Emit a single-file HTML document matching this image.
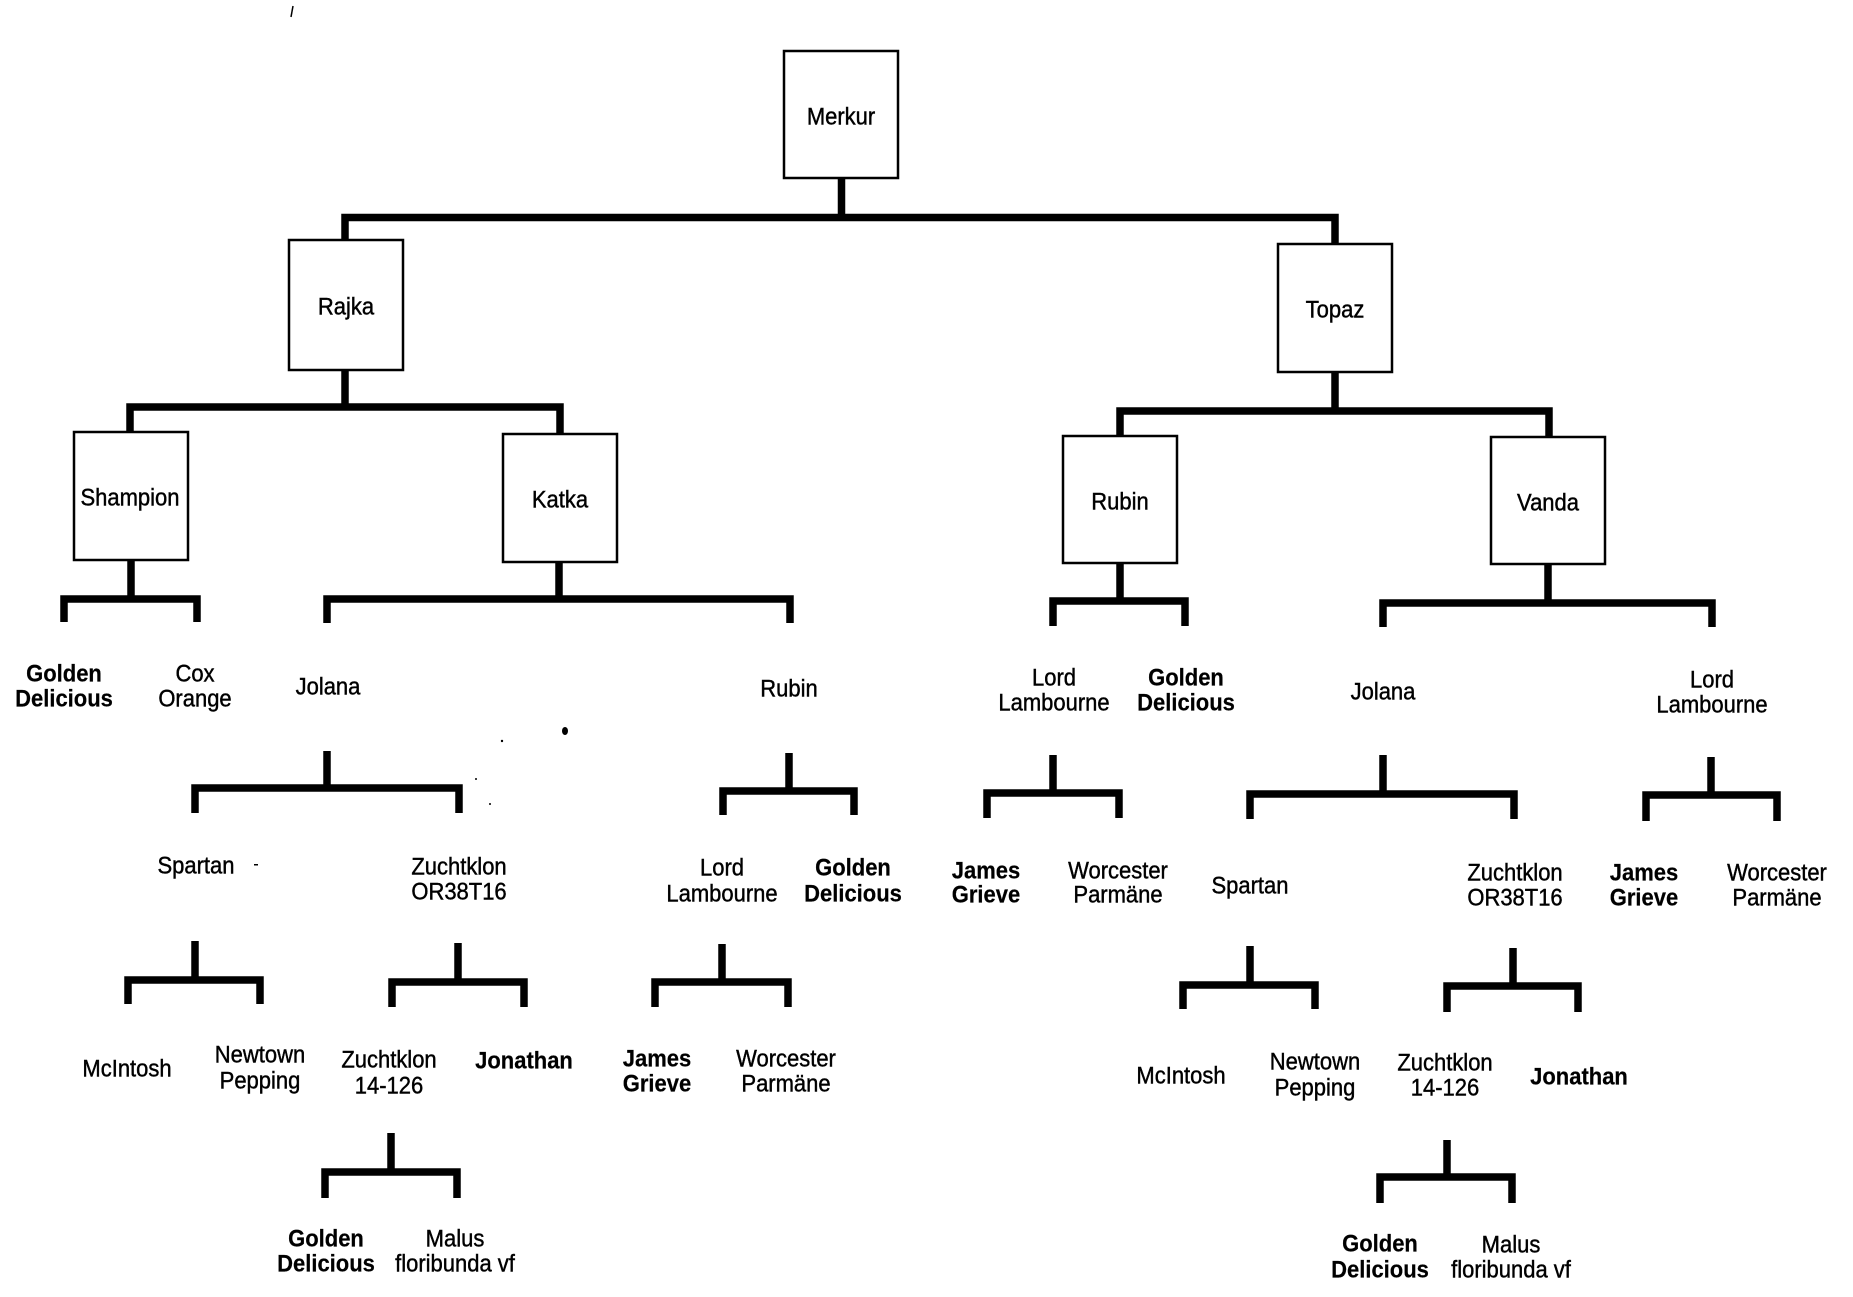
<!DOCTYPE html>
<html>
<head>
<meta charset="utf-8">
<style>
  html, body { margin: 0; padding: 0; background: #fff; }
  svg { display: block; }
  text { font-family: "Liberation Sans", Arial, sans-serif; font-size: 22px; fill: #000; text-anchor: middle; stroke: #000; stroke-width: 0.4; }
  .b { font-weight: bold; stroke-width: 0.2; }
  .ln { stroke: #000; stroke-width: 7.5; fill: none; stroke-linejoin: miter; stroke-linecap: butt; }
  .bx { stroke: #000; stroke-width: 2.5; fill: #fff; }
</style>
</head>
<body>
<svg width="1853" height="1297" viewBox="0 0 1853 1297" xmlns="http://www.w3.org/2000/svg">
  <rect width="1853" height="1297" fill="#fff"/>

  <!-- specks -->
  <path d="M293 6 L291 17" stroke="#000" stroke-width="1.5"/>
  <ellipse cx="565" cy="731" rx="3" ry="4" fill="#000"/>
  <circle cx="502" cy="741" r="1.2" fill="#000"/>
  <circle cx="476" cy="779" r="1" fill="#000"/>
  <circle cx="490" cy="804" r="1" fill="#000"/>
  <rect x="254" y="864" width="4" height="1.5" fill="#000"/>

  <!-- Level 1 -->
  <line class="ln" x1="841.5" y1="178" x2="841.5" y2="218"/>
  <polyline class="ln" points="345,240 345,217.5 1335,217.5 1335,244"/>

  <!-- Rajka connectors -->
  <line class="ln" x1="345" y1="370" x2="345" y2="407"/>
  <polyline class="ln" points="130,432 130,407 560,407 560,434"/>

  <!-- Topaz connectors -->
  <line class="ln" x1="1335" y1="372" x2="1335" y2="411"/>
  <polyline class="ln" points="1120,436 1120,411 1549,411 1549,437"/>

  <!-- Level 3 brackets -->
  <line class="ln" x1="131" y1="560" x2="131" y2="599"/>
  <polyline class="ln" points="64,622 64,599 197,599 197,622"/>
  <line class="ln" x1="559" y1="562" x2="559" y2="599"/>
  <polyline class="ln" points="327,623 327,599 790,599 790,623"/>
  <line class="ln" x1="1120" y1="563" x2="1120" y2="601"/>
  <polyline class="ln" points="1053,626 1053,601 1185,601 1185,626"/>
  <line class="ln" x1="1548" y1="564" x2="1548" y2="603"/>
  <polyline class="ln" points="1383,627 1383,603 1712,603 1712,627"/>

  <!-- Level 4 brackets -->
  <line class="ln" x1="327" y1="751" x2="327" y2="788"/>
  <polyline class="ln" points="195,813 195,788 459,788 459,813"/>
  <line class="ln" x1="789" y1="753" x2="789" y2="791"/>
  <polyline class="ln" points="723,815 723,791 854,791 854,815"/>
  <line class="ln" x1="1053" y1="755" x2="1053" y2="793"/>
  <polyline class="ln" points="987,818 987,793 1119,793 1119,818"/>
  <line class="ln" x1="1383" y1="755" x2="1383" y2="794"/>
  <polyline class="ln" points="1250,819 1250,794 1514,794 1514,819"/>
  <line class="ln" x1="1711" y1="757" x2="1711" y2="795"/>
  <polyline class="ln" points="1646,821 1646,795 1777,795 1777,821"/>

  <!-- Level 5 brackets -->
  <line class="ln" x1="195" y1="941" x2="195" y2="980"/>
  <polyline class="ln" points="128,1004 128,980 260,980 260,1004"/>
  <line class="ln" x1="458" y1="943" x2="458" y2="982"/>
  <polyline class="ln" points="392,1007 392,982 524,982 524,1007"/>
  <line class="ln" x1="722" y1="944" x2="722" y2="982"/>
  <polyline class="ln" points="655,1007 655,982 788,982 788,1007"/>
  <line class="ln" x1="1250" y1="946" x2="1250" y2="985"/>
  <polyline class="ln" points="1183,1009 1183,985 1315,985 1315,1009"/>
  <line class="ln" x1="1513" y1="948" x2="1513" y2="986"/>
  <polyline class="ln" points="1447,1012 1447,986 1578,986 1578,1012"/>

  <!-- Level 6 brackets -->
  <line class="ln" x1="391" y1="1133" x2="391" y2="1172"/>
  <polyline class="ln" points="325,1198 325,1172 457,1172 457,1198"/>
  <line class="ln" x1="1447" y1="1140" x2="1447" y2="1177"/>
  <polyline class="ln" points="1380,1203 1380,1177 1512,1177 1512,1203"/>

  <!-- Boxes -->
  <rect class="bx" x="784" y="51" width="114" height="127"/>
  <rect class="bx" x="289" y="240" width="114" height="130"/>
  <rect class="bx" x="1278" y="244" width="114" height="128"/>
  <rect class="bx" x="74" y="432" width="114" height="128"/>
  <rect class="bx" x="503" y="434" width="114" height="128"/>
  <rect class="bx" x="1063" y="436" width="114" height="127"/>
  <rect class="bx" x="1491" y="437" width="114" height="127"/>

  <!-- Box labels -->
  <text transform="translate(841,124.5) scale(1,1.08)">Merkur</text>
  <text transform="translate(346,314.5) scale(1,1.08)">Rajka</text>
  <text transform="translate(1335,317.5) scale(1,1.08)">Topaz</text>
  <text transform="translate(130,505.5) scale(1,1.08)">Shampion</text>
  <text transform="translate(560,507.5) scale(1,1.08)">Katka</text>
  <text transform="translate(1120,509.5) scale(1,1.08)">Rubin</text>
  <text transform="translate(1548,510.5) scale(1,1.08)">Vanda</text>

  <!-- Level 3 labels -->
  <text class="b" transform="translate(64,681.5) scale(1,1.08)">Golden</text>
  <text class="b" transform="translate(64,706.5) scale(1,1.08)">Delicious</text>
  <text transform="translate(195,681.5) scale(1,1.08)">Cox</text>
  <text transform="translate(195,706.5) scale(1,1.08)">Orange</text>
  <text transform="translate(328,694.5) scale(1,1.08)">Jolana</text>
  <text transform="translate(789,696.5) scale(1,1.08)">Rubin</text>
  <text transform="translate(1054,685.5) scale(1,1.08)">Lord</text>
  <text transform="translate(1054,710.5) scale(1,1.08)">Lambourne</text>
  <text class="b" transform="translate(1186,685.5) scale(1,1.08)">Golden</text>
  <text class="b" transform="translate(1186,710.5) scale(1,1.08)">Delicious</text>
  <text transform="translate(1383,699.5) scale(1,1.08)">Jolana</text>
  <text transform="translate(1712,687.5) scale(1,1.08)">Lord</text>
  <text transform="translate(1712,712.5) scale(1,1.08)">Lambourne</text>

  <!-- Level 4 labels -->
  <text transform="translate(196,873.5) scale(1,1.08)">Spartan</text>
  <text transform="translate(459,874.5) scale(1,1.08)">Zuchtklon</text>
  <text transform="translate(459,899.5) scale(1,1.08)">OR38T16</text>
  <text transform="translate(722,875.5) scale(1,1.08)">Lord</text>
  <text transform="translate(722,901.5) scale(1,1.08)">Lambourne</text>
  <text class="b" transform="translate(853,875.5) scale(1,1.08)">Golden</text>
  <text class="b" transform="translate(853,901.5) scale(1,1.08)">Delicious</text>
  <text class="b" transform="translate(986,878.5) scale(1,1.08)">James</text>
  <text class="b" transform="translate(986,902.5) scale(1,1.08)">Grieve</text>
  <text transform="translate(1118,878.5) scale(1,1.08)">Worcester</text>
  <text transform="translate(1118,902.5) scale(1,1.08)">Parmäne</text>
  <text transform="translate(1250,893.5) scale(1,1.08)">Spartan</text>
  <text transform="translate(1515,880.5) scale(1,1.08)">Zuchtklon</text>
  <text transform="translate(1515,905.5) scale(1,1.08)">OR38T16</text>
  <text class="b" transform="translate(1644,880.5) scale(1,1.08)">James</text>
  <text class="b" transform="translate(1644,905.5) scale(1,1.08)">Grieve</text>
  <text transform="translate(1777,880.5) scale(1,1.08)">Worcester</text>
  <text transform="translate(1777,905.5) scale(1,1.08)">Parmäne</text>

  <!-- Level 5 labels -->
  <text transform="translate(127,1076.5) scale(1,1.08)">McIntosh</text>
  <text transform="translate(260,1062.5) scale(1,1.08)">Newtown</text>
  <text transform="translate(260,1088.5) scale(1,1.08)">Pepping</text>
  <text transform="translate(389,1067.5) scale(1,1.08)">Zuchtklon</text>
  <text transform="translate(389,1093.5) scale(1,1.08)">14-126</text>
  <text class="b" transform="translate(524,1068.5) scale(1,1.08)">Jonathan</text>
  <text class="b" transform="translate(657,1066.5) scale(1,1.08)">James</text>
  <text class="b" transform="translate(657,1091.5) scale(1,1.08)">Grieve</text>
  <text transform="translate(786,1066.5) scale(1,1.08)">Worcester</text>
  <text transform="translate(786,1091.5) scale(1,1.08)">Parmäne</text>
  <text transform="translate(1181,1083.5) scale(1,1.08)">McIntosh</text>
  <text transform="translate(1315,1069.5) scale(1,1.08)">Newtown</text>
  <text transform="translate(1315,1095.5) scale(1,1.08)">Pepping</text>
  <text transform="translate(1445,1070.5) scale(1,1.08)">Zuchtklon</text>
  <text transform="translate(1445,1095.5) scale(1,1.08)">14-126</text>
  <text class="b" transform="translate(1579,1084.5) scale(1,1.08)">Jonathan</text>

  <!-- Level 6 labels -->
  <text class="b" transform="translate(326,1246.5) scale(1,1.08)">Golden</text>
  <text class="b" transform="translate(326,1271.5) scale(1,1.08)">Delicious</text>
  <text transform="translate(455,1246.5) scale(1,1.08)">Malus</text>
  <text transform="translate(455,1271.5) scale(1,1.08)">floribunda vf</text>
  <text class="b" transform="translate(1380,1251.5) scale(1,1.08)">Golden</text>
  <text class="b" transform="translate(1380,1277.5) scale(1,1.08)">Delicious</text>
  <text transform="translate(1511,1252.5) scale(1,1.08)">Malus</text>
  <text transform="translate(1511,1277.5) scale(1,1.08)">floribunda vf</text>
</svg>
</body>
</html>
